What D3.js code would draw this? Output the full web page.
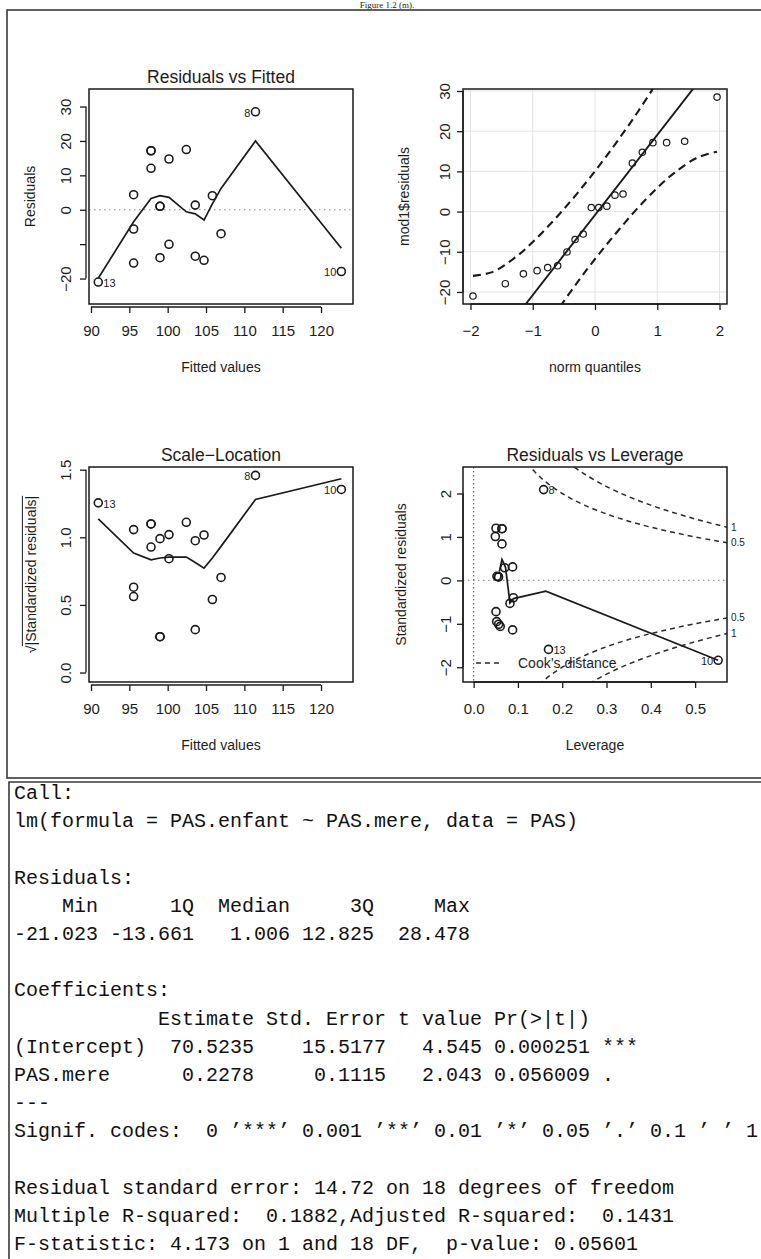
<!DOCTYPE html>
<html><head><meta charset="utf-8">
<script src="https://cdn.jsdelivr.net/npm/d3@7"></script>
<style>
body{margin:0;background:#fff}
svg{display:block}
text{font-family:"Liberation Sans",Arial,sans-serif;fill:#1c1c1c}
.mono{font-family:"Liberation Mono","DejaVu Sans Mono",monospace;white-space:pre}
</style>
</head><body>
<svg id="c" width="761" height="1259"></svg>
<script>
// ---------------- DATA ----------------
const fittedTicks = [90, 95, 100, 105, 110, 115, 120];
const rfYTicks = [-20, -10, 0, 10, 20, 30];
const rfYTickLabels = ["\u221220", "", "0", "10", "20", "30"];
const slYTicks = [0, 0.5, 1.0, 1.5];
const slYTickLabels = ["0.0", "0.5", "1.0", "1.5"];
const qqXTicks = [-2, -1, 0, 1, 2];
const qqXTickLabels = ["\u22122", "\u22121", "0", "1", "2"];
const qqYTicks = [-20, -10, 0, 10, 20, 30];
const qqYTickLabels = ["\u221220", "\u221210", "0", "10", "20", "30"];
const levXTicks = [0, 0.1, 0.2, 0.3, 0.4, 0.5];
const levXTickLabels = ["0.0", "0.1", "0.2", "0.3", "0.4", "0.5"];
const levYTicks = [-2, -1, 0, 1, 2];
const levYTickLabels = ["\u22122", "\u22121", "0", "1", "2"];

// observations (ordered by fitted value)
const fitted     = [90.95, 95.56, 95.56, 95.56, 97.83, 97.83, 97.83, 99.0, 99.0, 99.0, 100.17, 100.17, 102.43, 103.6, 103.6, 104.74, 105.83, 106.96, 111.45, 122.65];
const residuals  = [-21.02, 4.37, -5.6, -15.5, 17.15, 17.15, 12.05, 1.006, 1.006, -13.94, 14.75, -10.05, 17.5, 1.35, -13.5, -14.7, 4.08, -6.96, 28.48, -17.95];
const sqrtStdRes = [1.255, 0.562, 0.631, 1.057, 1.099, 1.099, 0.928, 0.265, 0.265, 0.990, 1.020, 0.842, 1.111, 0.317, 0.975, 1.017, 0.540, 0.703, 1.458, 1.354];
const leverage   = [0.169, 0.088, 0.0896, 0.088, 0.064, 0.064, 0.064, 0.056, 0.056, 0.0565, 0.049, 0.0505, 0.0505, 0.0526, 0.052, 0.060, 0.070, 0.082, 0.158, 0.552];
const stdRes     = [-1.59, 0.31, -0.40, -1.14, 1.19, 1.19, 0.84, 0.08, 0.08, -1.01, 1.01, -0.72, 1.20, 0.093, -0.95, -1.06, 0.29, -0.53, 2.09, -1.84];
const obsLabelIdx  = [0, 18, 19];
const obsLabelText = ["13", "8", "10"];

// smoothers
const smoothX  = [90.95, 95.56, 97.83, 99.0, 100.17, 102.43, 103.6, 104.74, 105.83, 106.96, 111.45, 122.65];
const smoothRF = [-19.9, -3.5, 3.3, 4.1, 3.6, -0.6, -1.2, -3.0, 1.7, 6.2, 20.0, -11.2];
const smoothSL = [1.136, 0.884, 0.834, 0.847, 0.854, 0.854, 0.814, 0.772, 0.847, 0.933, 1.280, 1.433];
const smoothLevX = [0.058, 0.064, 0.072, 0.082, 0.090, 0.163, 0.552];
const smoothLevY = [0.20, 0.48, 0.30, -0.52, -0.42, -0.25, -1.84];

// QQ plot
const qqTheo = [-1.96, -1.44, -1.15, -0.93, -0.76, -0.60, -0.45, -0.32, -0.19, -0.06, 0.06, 0.19, 0.32, 0.45, 0.60, 0.76, 0.93, 1.15, 1.44, 1.96];
const qqLineEnds = [[-1.101, -22.8], [1.573, 30.5]];
const qqEnvZ     = [-1.96, -1.64, -1.28, -1.0, -0.67, -0.39, -0.13, 0.13, 0.39, 0.67, 1.0, 1.28, 1.64, 1.96];
const qqEnvUpper = [-16.0, -15.0, -11.4, -7.6, -2.3, 2.6, 7.5, 12.7, 18.2, 24.4, 32.3, 39.6, 50.2, 61.6];
const qqEnvLower = [-63.3, -51.9, -41.3, -34.0, -26.1, -19.9, -14.4, -9.3, -4.4, 0.6, 5.9, 9.7, 13.4, 14.9];

// Cook's distance contours
const cookLev  = [0.12, 0.14, 0.16, 0.18, 0.2, 0.22, 0.25, 0.3, 0.35, 0.4, 0.45, 0.5, 0.55, 0.572];
const cookHalf = [2.708, 2.478, 2.291, 2.134, 2.0, 1.883, 1.732, 1.528, 1.363, 1.225, 1.106, 1.0, 0.905, 0.865];
const cookOne  = [3.830, 3.505, 3.240, 3.018, 2.828, 2.663, 2.449, 2.160, 1.927, 1.732, 1.564, 1.414, 1.279, 1.223];
const cookLevels = ["0.5", "1"];

const summaryLines = [
"Call:",
"lm(formula = PAS.enfant ~ PAS.mere, data = PAS)",
"",
"Residuals:",
"    Min      1Q  Median     3Q     Max",
"-21.023 -13.661   1.006 12.825  28.478",
"",
"Coefficients:",
"            Estimate Std. Error t value Pr(>|t|)",
"(Intercept)  70.5235    15.5177   4.545 0.000251 ***",
"PAS.mere      0.2278     0.1115   2.043 0.056009 .",
"---",
"Signif. codes:  0 \u2019***\u2019 0.001 \u2019**\u2019 0.01 \u2019*\u2019 0.05 \u2019.\u2019 0.1 \u2019 \u2019 1",
"",
"Residual standard error: 14.72 on 18 degrees of freedom",
"Multiple R-squared:  0.1882,Adjusted R-squared:  0.1431",
"F-statistic: 4.173 on 1 and 18 DF,  p-value: 0.05601"
];

// ---------------- DRAWING ----------------
const INK = "#1a1a1a";
const svg = d3.select("#c");
svg.append("rect").attr("width", 761).attr("height", 1259).attr("fill", "#fff");

// page frames
svg.append("text").attr("x", 387).attr("y", 8).attr("text-anchor", "middle")
  .style("font-family", "'Liberation Serif',serif").style("font-size", "9px").text("Figure 1.2 (m).");
svg.append("rect").attr("x", 7).attr("y", 10).attr("width", 760).attr("height", 768)
  .attr("fill", "none").attr("stroke", "#3a3a3a").attr("stroke-width", 1.6);
svg.append("path").attr("d", "M 9 1262 L 9 782 L 765 782")
  .attr("fill", "none").attr("stroke", "#3a3a3a").attr("stroke-width", 1.6);

let clipN = 0;
function panel(o) {
  const g = svg.append("g");
  const x = d3.scaleLinear().domain(o.xlim).range([o.bx0, o.bx1]);
  const y = d3.scaleLinear().domain(o.ylim).range([o.by1, o.by0]);
  const id = "clip" + (clipN++);
  svg.append("clipPath").attr("id", id).append("rect")
    .attr("x", o.bx0).attr("y", o.by0).attr("width", o.bx1 - o.bx0).attr("height", o.by1 - o.by0);
  const inner = g.append("g").attr("clip-path", `url(#${id})`);

  // x axis
  const xa = g.append("g").attr("transform", `translate(0,${o.by1 + o.off})`)
    .call(d3.axisBottom(x).tickValues(o.xt).tickSize(6).tickSizeOuter(0).tickFormat((d, i) => o.xtl[i]));
  xa.select(".domain").remove();
  xa.append("line").attr("x1", x(o.xt[0])).attr("x2", x(o.xt[o.xt.length - 1]))
    .attr("stroke", INK).attr("stroke-width", 1.3);
  xa.selectAll(".tick line").attr("stroke", INK).attr("stroke-width", 1.3);
  xa.selectAll("text").attr("y", 27 - o.off).attr("dy", "0.35em")
    .style("font-size", "15px").attr("fill", INK);

  // y axis
  const ya = g.append("g").attr("transform", `translate(${o.bx0 - o.off},0)`)
    .call(d3.axisLeft(y).tickValues(o.yt).tickSize(6).tickSizeOuter(0).tickFormat((d, i) => o.ytl[i]));
  ya.select(".domain").remove();
  ya.append("line").attr("y1", y(o.yt[0])).attr("y2", y(o.yt[o.yt.length - 1]))
    .attr("stroke", INK).attr("stroke-width", 1.3);
  ya.selectAll(".tick line").attr("stroke", INK).attr("stroke-width", 1.3);
  ya.selectAll("text").attr("x", 0).attr("y", -(o.ylabOff - o.off)).attr("dy", "0.35em")
    .attr("transform", "rotate(-90)").attr("text-anchor", "middle")
    .style("font-size", "15px").attr("fill", INK);

  // box
  g.append("rect").attr("x", o.bx0).attr("y", o.by0).attr("width", o.bx1 - o.bx0).attr("height", o.by1 - o.by0)
    .attr("fill", "none").attr("stroke", INK).attr("stroke-width", 1.5);

  if (o.title) g.append("text").attr("x", (o.bx0 + o.bx1) / 2).attr("y", o.by0 - 12).attr("dy", "0.35em")
    .attr("text-anchor", "middle").style("font-size", "17.5px").text(o.title);
  g.append("text").attr("x", (o.bx0 + o.bx1) / 2).attr("y", o.by1 + 63).attr("dy", "0.35em")
    .attr("text-anchor", "middle").style("font-size", "14px").text(o.xlab);
  if (o.ylab) g.append("text").attr("transform", `translate(${o.ylabX},${(o.by0 + o.by1) / 2}) rotate(-90)`)
    .attr("dy", "0.35em").attr("text-anchor", "middle").style("font-size", "14px").text(o.ylab);
  return { g, inner, x, y, o };
}

function pointLabels(p, xs, ys) {
  const mid = (p.o.xlim[0] + p.o.xlim[1]) / 2;
  obsLabelIdx.forEach((k, j) => {
    const px = p.x(xs[k]), py = p.y(ys[k]);
    const right = xs[k] < mid;
    p.g.append("text").attr("x", right ? px + 5 : px - 5).attr("y", py + 1).attr("dy", "0.35em")
      .attr("text-anchor", right ? "start" : "end").style("font-size", "11px").text(obsLabelText[j]);
  });
}
function circles(p, xs, ys, r, w) {
  p.g.append("g").selectAll("circle").data(xs).join("circle")
    .attr("cx", (d) => p.x(d)).attr("cy", (d, i) => p.y(ys[i])).attr("r", r)
    .attr("fill", "none").attr("stroke", INK).attr("stroke-width", w);
}

const LX = [89, 353], RX = [463, 727], TY = [89, 304], BY = [467, 682];

// ---- Panel 1: Residuals vs Fitted ----
const p1 = panel({ bx0: LX[0], bx1: LX[1], by0: TY[0], by1: TY[1], off: 3, ylabOff: 23, ylabX: 30,
  xlim: [89.74, 124.17], ylim: [-27.4, 35.1], xt: fittedTicks, xtl: fittedTicks.map(String),
  yt: rfYTicks, ytl: rfYTickLabels, title: "Residuals vs Fitted", xlab: "Fitted values", ylab: "Residuals" });
p1.inner.append("line").attr("x1", LX[0]).attr("x2", LX[1]).attr("y1", p1.y(0)).attr("y2", p1.y(0))
  .attr("stroke", "#8a8a8a").attr("stroke-width", 1.2).attr("stroke-dasharray", "1.5,3.5");
p1.inner.append("path").datum(smoothX).attr("fill", "none").attr("stroke", INK).attr("stroke-width", 1.7)
  .attr("d", d3.line().x((d) => p1.x(d)).y((d, i) => p1.y(smoothRF[i])));
circles(p1, fitted, residuals, 4, 1.6);
pointLabels(p1, fitted, residuals);

// ---- Panel 2: QQ plot ----
const p2 = panel({ bx0: RX[0], bx1: RX[1], by0: TY[0], by1: TY[1], off: 0, ylabOff: 18, ylabX: 404,
  xlim: [-2.12, 2.12], ylim: [-23, 30.5], xt: qqXTicks, xtl: qqXTickLabels,
  yt: qqYTicks, ytl: qqYTickLabels, title: null, xlab: "norm quantiles", ylab: "mod1$residuals" });
qqXTicks.forEach((t) => p2.inner.append("line").attr("x1", p2.x(t)).attr("x2", p2.x(t)).attr("y1", TY[0]).attr("y2", TY[1])
  .attr("stroke", "#e4e4e4").attr("stroke-width", 1));
qqYTicks.forEach((t) => p2.inner.append("line").attr("y1", p2.y(t)).attr("y2", p2.y(t)).attr("x1", RX[0]).attr("x2", RX[1])
  .attr("stroke", "#e4e4e4").attr("stroke-width", 1));
{
  const [[xa, ya], [xb, yb]] = qqLineEnds;
  const s = (yb - ya) / (xb - xa);
  const x0 = p2.o.xlim[0], x1 = p2.o.xlim[1];
  p2.inner.append("line").attr("x1", p2.x(x0)).attr("y1", p2.y(ya + s * (x0 - xa)))
    .attr("x2", p2.x(x1)).attr("y2", p2.y(ya + s * (x1 - xa)))
    .attr("stroke", INK).attr("stroke-width", 1.9);
}
[qqEnvUpper, qqEnvLower].forEach((arr) => {
  p2.inner.append("path").datum(qqEnvZ).attr("fill", "none").attr("stroke", INK).attr("stroke-width", 2.1)
    .attr("stroke-dasharray", "8,5")
    .attr("d", d3.line().curve(d3.curveCatmullRom).x((d) => p2.x(d)).y((d, i) => p2.y(arr[i])));
});
circles(p2, qqTheo, d3.sort(residuals), 3.2, 1.2);

// ---- Panel 3: Scale-Location ----
const p3 = panel({ bx0: LX[0], bx1: LX[1], by0: BY[0], by1: BY[1], off: 3, ylabOff: 23, ylabX: 0,
  xlim: [89.74, 124.17], ylim: [-0.07, 1.52], xt: fittedTicks, xtl: fittedTicks.map(String),
  yt: slYTicks, ytl: slYTickLabels, title: "Scale\u2212Location", xlab: "Fitted values", ylab: null });
{
  const gl = svg.append("g").attr("transform", `translate(31,${(BY[0] + BY[1]) / 2}) rotate(-90)`);
  const t1 = gl.append("text").attr("y", 5).style("font-size", "14px").text("\u221A");
  const t2 = gl.append("text").attr("y", 5).style("font-size", "14px").text("|Standardized residuals|");
  const w1 = t1.node().getComputedTextLength(), w2 = t2.node().getComputedTextLength();
  const start = -(w1 + w2) / 2;
  t1.attr("x", start); t2.attr("x", start + w1);
  gl.append("line").attr("x1", start + w1 - 0.5).attr("x2", start + w1 + w2).attr("y1", -8.6).attr("y2", -8.6)
    .attr("stroke", INK).attr("stroke-width", 1);
}
p3.inner.append("path").datum(smoothX).attr("fill", "none").attr("stroke", INK).attr("stroke-width", 1.7)
  .attr("d", d3.line().x((d) => p3.x(d)).y((d, i) => p3.y(smoothSL[i])));
circles(p3, fitted, sqrtStdRes, 4, 1.6);
pointLabels(p3, fitted, sqrtStdRes);

// ---- Panel 4: Residuals vs Leverage ----
const p4 = panel({ bx0: RX[0], bx1: RX[1], by0: BY[0], by1: BY[1], off: 0, ylabOff: 17, ylabX: 401,
  xlim: [-0.024, 0.572], ylim: [-2.34, 2.61], xt: levXTicks, xtl: levXTickLabels,
  yt: levYTicks, ytl: levYTickLabels, title: "Residuals vs Leverage", xlab: "Leverage", ylab: "Standardized residuals" });
p4.inner.append("line").attr("x1", RX[0]).attr("x2", RX[1]).attr("y1", p4.y(0)).attr("y2", p4.y(0))
  .attr("stroke", "#9a9a9a").attr("stroke-width", 1.2).attr("stroke-dasharray", "1.5,3.5");
p4.inner.append("line").attr("x1", p4.x(0)).attr("x2", p4.x(0)).attr("y1", BY[0]).attr("y2", BY[1])
  .attr("stroke", "#666").attr("stroke-width", 1.2).attr("stroke-dasharray", "1.5,2.5");
[cookHalf, cookOne].forEach((arr, j) => {
  [1, -1].forEach((sg) => {
    p4.inner.append("path").datum(cookLev).attr("fill", "none").attr("stroke", "#2a2a2a").attr("stroke-width", 1.5)
      .attr("stroke-dasharray", "5,4")
      .attr("d", d3.line().curve(d3.curveCatmullRom).x((d) => p4.x(d)).y((d, i) => p4.y(sg * arr[i])));
    p4.g.append("text").attr("x", RX[1] + 4).attr("y", p4.y(sg * arr[arr.length - 1])).attr("dy", "0.35em")
      .style("font-size", "10px").text(cookLevels[j]);
  });
});
p4.inner.append("path").datum(smoothLevX).attr("fill", "none").attr("stroke", INK).attr("stroke-width", 1.7)
  .attr("d", d3.line().x((d) => p4.x(d)).y((d, i) => p4.y(smoothLevY[i])));
circles(p4, leverage, stdRes, 4, 1.6);
pointLabels(p4, leverage, stdRes);
// legend
p4.g.append("line").attr("x1", RX[0] + 13).attr("x2", RX[0] + 38).attr("y1", BY[1] - 19).attr("y2", BY[1] - 19)
  .attr("stroke", "#2a2a2a").attr("stroke-width", 1.5).attr("stroke-dasharray", "5,4");
p4.g.append("text").attr("x", RX[0] + 55).attr("y", BY[1] - 19).attr("dy", "0.35em")
  .style("font-size", "14px").text("Cook\u2019s distance");

// ---- R summary text ----
svg.append("g").selectAll("text").data(summaryLines).join("text")
  .attr("class", "mono").attr("xml:space", "preserve")
  .attr("x", 14).attr("y", (d, i) => 799 + i * 28.2)
  .style("font-size", "20px").style("fill", "#111").text((d) => d);
</script>
</body></html>
